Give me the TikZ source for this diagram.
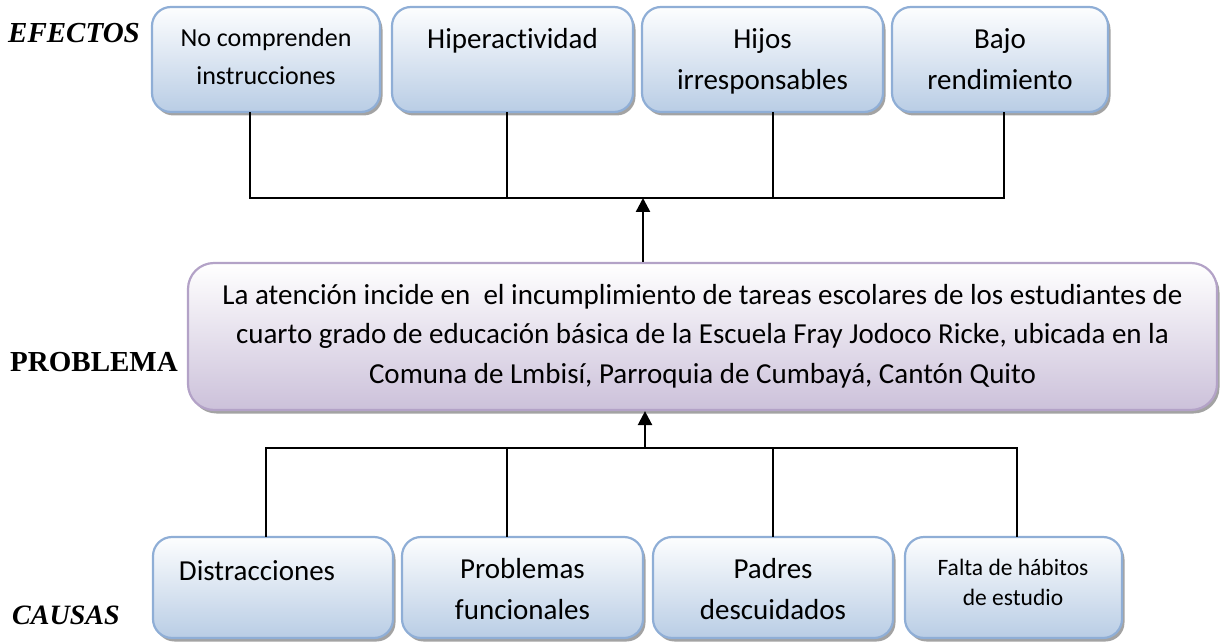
\documentclass[tikz,border=0pt]{standalone}
\usepackage{fontspec}
\setmainfont{Carlito}[Ligatures=NoCommon]
\newfontfamily\tnr{Liberation Serif}
\usetikzlibrary{shadows,arrows.meta,calc}
\definecolor{bbord}{HTML}{8FAED6}
\definecolor{bbot}{HTML}{B9CDE5}
\definecolor{pbord}{HTML}{B3A2C7}
\definecolor{pbot}{HTML}{CCC1DA}
\newcommand\mlines[1]{\begin{tabular}[t]{@{}c@{}}#1\end{tabular}}
\begin{document}
\begin{tikzpicture}[x=1pt,y=-1pt,
  shadowed/.style={drop shadow={shadow xshift=2.5pt,shadow yshift=-3.5pt,fill=black!60,opacity=.6}},
  bbox/.style={draw=bbord,line width=2.2pt,rounded corners=19pt,top color=white!97!bbot,bottom color=bbot,shadowed,inner sep=0pt},
  pbox/.style={draw=pbord,line width=2.2pt,rounded corners=26pt,top color=white,bottom color=pbot,shadowed,inner sep=0pt},
  btxt/.style={inner sep=0pt,anchor=base,font=\fontsize{29}{41}\selectfont},
  mtxt/.style={inner sep=0pt,anchor=base,font=\fontsize{26}{38}\selectfont},
  stxt/.style={inner sep=0pt,anchor=base,font=\fontsize{23.5}{30}\selectfont},
  ptxt/.style={inner sep=0pt,anchor=base,font=\fontsize{29}{39.5}\selectfont},
  lab/.style={inner sep=0pt,anchor=west,font=\tnr\bfseries\fontsize{29}{34}\selectfont},
  conn/.style={line width=1.8pt,line cap=rect},
  arr/.style={line width=2.4pt,-{Triangle[length=14pt,width=14pt]}}]
\useasboundingbox (0,0) rectangle (1225,644);

% effects boxes
\node[bbox,minimum width=228pt,minimum height=105pt] (e1) at (266,59.5) {};
\node[bbox,minimum width=241pt,minimum height=105pt] (e2) at (512.5,59.5) {};
\node[bbox,minimum width=241pt,minimum height=105pt] (e3) at (762.5,59.5) {};
\node[bbox,minimum width=216pt,minimum height=105pt] (e4) at (1000,59.5) {};
\node[mtxt] (e1t) at ($(e1.north)+(0,41)$) {\mlines{No comprenden\\instrucciones}};
\node[btxt] (e2t) at ($(e2.north)+(0,43)$) {\mlines{Hiperactividad}};
\node[btxt] (e3t) at ($(e3.north)+(0,43)$) {\mlines{Hijos\\irresponsables}};
\node[btxt] (e4t) at ($(e4.north)+(0,43)$) {\mlines{Bajo\\rendimiento}};

% problem box
\node[pbox,minimum width=1029pt,minimum height=147pt] (p) at (702.5,336.5) {};
\begin{scope}
\clip (188,250) rectangle (1217,392);
\node[ptxt] (pt) at (702.5,304) {\mlines{La atención incide en \ el incumplimiento de tareas escolares de los estudiantes de\\cuarto grado de educación básica de la Escuela Fray Jodoco Ricke, ubicada en la\\Comuna de Lmbisí, Parroquia de Cumbayá, Cantón Quito}};
\end{scope}

% causes boxes
\node[bbox,minimum width=240pt,minimum height=101pt] (c1) at (273,587.5) {};
\node[bbox,minimum width=241pt,minimum height=101pt] (c2) at (522.5,587.5) {};
\node[bbox,minimum width=240pt,minimum height=101pt] (c3) at (773,587.5) {};
\node[bbox,minimum width=217pt,minimum height=101pt] (c4) at (1013.5,587.5) {};
\node[btxt] (c1t) at (257,580) {\mlines{Distracciones}};
\node[btxt] (c2t) at (522.5,578) {\mlines{Problemas\\funcionales}};
\node[btxt] (c3t) at (773,578) {\mlines{Padres\\descuidados}};
\node[stxt] (c4t) at (1013,575) {\mlines{Falta de hábitos\\de estudio}};

% side labels
\node[lab,font=\tnr\bfseries\itshape\fontsize{29}{34}\selectfont] (lefe) at (8,33) {EFECTOS};
\node[lab] (lprob) at (10,362) {PROBLEMA};
\node[lab,font=\tnr\bfseries\itshape\fontsize{28}{34}\selectfont] (lcau) at (12,615) {CAUSAS};

% top connectors
\coordinate (jt) at (643,198);
\coordinate (jt1) at (250,198);
\coordinate (jt2) at (507,198);
\coordinate (jt3) at (773,198);
\coordinate (jt4) at (1004,198);
\draw[conn] (e1.south -| jt1) -- (jt1) -- (jt4) -- (e4.south -| jt4);
\draw[conn] (e2.south -| jt2) -- (jt2);
\draw[conn] (e3.south -| jt3) -- (jt3);
\draw[arr] (p.north -| jt) -- (jt);

% bottom connectors
\coordinate (jb) at (645,448);
\coordinate (jb1) at (266,448);
\coordinate (jb2) at (507,448);
\coordinate (jb3) at (773,448);
\coordinate (jb4) at (1017,448);
\draw[conn] (c1.north -| jb1) -- (jb1) -- (jb4) -- (c4.north -| jb4);
\draw[conn] (c2.north -| jb2) -- (jb2);
\draw[conn] (c3.north -| jb3) -- (jb3);
\draw[arr] (jb) -- (p.south -| jb);
\end{tikzpicture}
\end{document}
